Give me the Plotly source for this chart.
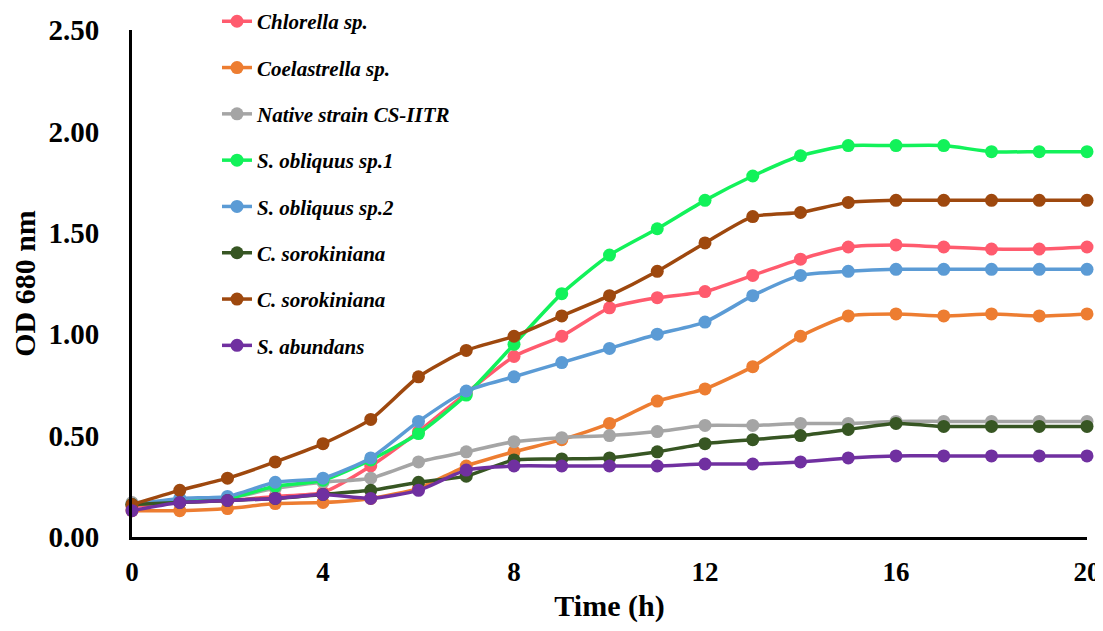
import plotly.graph_objects as go

time_h = list(range(21))

series_names = ["Chlorella sp.", "Coelastrella sp.", "Native strain CS-IITR", "S. obliquus sp.1",
                "S. obliquus sp.2", "C. sorokiniana", "C. sorokiniana", "S. abundans"]
colors = ["#FF5B6E", "#ED7D31", "#A5A5A5", "#12F25A", "#5B9BD5", "#375623", "#9E480E", "#7030A0"]

chlorella = [0.15, 0.17, 0.18, 0.20, 0.22, 0.35, 0.52, 0.71, 0.89, 0.99, 1.13, 1.18, 1.21, 1.29, 1.37, 1.43, 1.44, 1.43, 1.42, 1.42, 1.43]
coelastrella = [0.13, 0.13, 0.14, 0.165, 0.17, 0.19, 0.24, 0.35, 0.42, 0.48, 0.56, 0.67, 0.73, 0.84, 0.99, 1.09, 1.10, 1.09, 1.10, 1.09, 1.10]
native = [0.17, 0.17, 0.19, 0.24, 0.27, 0.29, 0.37, 0.42, 0.47, 0.49, 0.50, 0.52, 0.55, 0.55, 0.56, 0.56, 0.57, 0.57, 0.57, 0.57, 0.57]
obliquus1 = [0.16, 0.18, 0.19, 0.25, 0.28, 0.38, 0.51, 0.70, 0.95, 1.20, 1.39, 1.52, 1.66, 1.78, 1.88, 1.93, 1.93, 1.93, 1.90, 1.90, 1.90]
obliquus2 = [0.16, 0.19, 0.20, 0.27, 0.29, 0.39, 0.57, 0.72, 0.79, 0.86, 0.93, 1.00, 1.06, 1.19, 1.29, 1.31, 1.32, 1.32, 1.32, 1.32, 1.32]
sorokiniana1 = [0.16, 0.17, 0.18, 0.19, 0.21, 0.23, 0.27, 0.30, 0.38, 0.385, 0.39, 0.42, 0.46, 0.48, 0.50, 0.53, 0.56, 0.545, 0.545, 0.545, 0.545]
sorokiniana2 = [0.16, 0.23, 0.29, 0.37, 0.46, 0.58, 0.79, 0.92, 0.99, 1.09, 1.19, 1.31, 1.45, 1.58, 1.60, 1.65, 1.66, 1.66, 1.66, 1.66, 1.66]
abundans = [0.13, 0.17, 0.18, 0.19, 0.21, 0.19, 0.23, 0.33, 0.35, 0.35, 0.35, 0.35, 0.36, 0.36, 0.37, 0.39, 0.40, 0.40, 0.40, 0.40, 0.40]

all_series = [chlorella, coelastrella, native, obliquus1, obliquus2, sorokiniana1, sorokiniana2, abundans]

y_ticks = [0, 0.5, 1.0, 1.5, 2.0, 2.5]
x_ticks = [0, 4, 8, 12, 16, 20]

FONT = "Liberation Serif"

fig = go.Figure()
for i, (name, col, ys) in enumerate(zip(series_names, colors, all_series)):
    fig.add_trace(go.Scatter(
        x=time_h, y=ys, name=name, mode="lines+markers",
        line=dict(color=col, width=3.5, shape="spline", smoothing=0.6),
        marker=dict(color=col, size=13),
        legendgroup=f"g{i}", cliponaxis=False,
    ))

# page body has an 8px margin, so the figure is sized to fit the window
fig.update_layout(
    width=1095, height=615,
    margin=dict(l=124, r=16, t=22, b=86, autoexpand=False),
    plot_bgcolor="white", paper_bgcolor="white",
    font=dict(family=FONT, color="black"),
    showlegend=True,
    legend=dict(
        x=0.089, y=1.057, xanchor="left", yanchor="top",
        font=dict(family=FONT, size=21, color="black", weight="bold", style="italic"),
        tracegroupgap=16, bgcolor="rgba(0,0,0,0)", maxheight=600,
    ),
)
fig.update_xaxes(
    range=[0, 20], tickvals=x_ticks, ticktext=[str(v) for v in x_ticks],
    showgrid=False, zeroline=False, showline=True, linecolor="black", linewidth=3,
    ticks="", ticklabelstandoff=9, automargin=False,
    tickfont=dict(family=FONT, size=27, weight="bold"),
    title=dict(text="Time (h)", font=dict(family=FONT, size=30, weight="bold"), standoff=32),
)
fig.update_yaxes(
    range=[0, 2.5], tickvals=y_ticks, tickformat=".2f",
    showgrid=False, zeroline=False, showline=True, linecolor="black", linewidth=3,
    ticks="", ticklabelstandoff=24, automargin=False,
    tickfont=dict(family=FONT, size=29, weight="bold"),
    title=dict(text="OD 680 nm", font=dict(family=FONT, size=30, weight="bold"), standoff=10),
)

fig.write_html("out.html")
